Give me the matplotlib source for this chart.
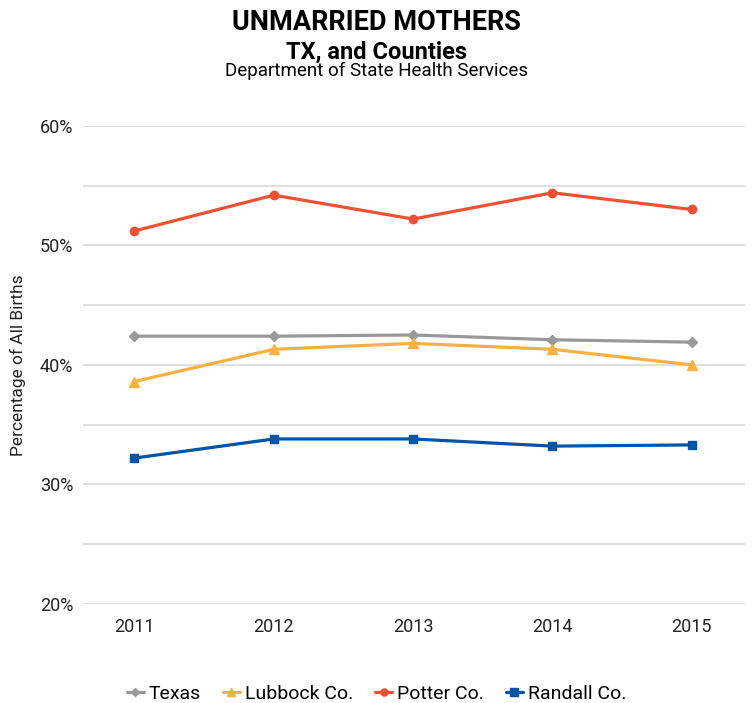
import matplotlib.pyplot as plt
from matplotlib.ticker import FuncFormatter, MultipleLocator

plt.rcParams['font.family'] = ['Roboto', 'DejaVu Sans']

years = ['2011', '2012', '2013', '2014', '2015']
texas = [42.4, 42.4, 42.5, 42.1, 41.9]
lubbock = [38.6, 41.3, 41.8, 41.3, 40.0]
potter = [51.2, 54.2, 52.2, 54.4, 53.0]
randall = [32.2, 33.8, 33.8, 33.2, 33.3]

series = [
    ('Texas', texas, '#999999', 'D', 5),
    ('Lubbock Co.', lubbock, '#fbb040', '^', 7),
    ('Potter Co.', potter, '#f05133', 'o', 6),
    ('Randall Co.', randall, '#0054a6', 's', 6),
]

fig = plt.figure(figsize=(7.53, 7.03), dpi=100)
ax = fig.add_axes([0.110, 0.141, 0.879, 0.680])

x = list(range(len(years)))
for name, vals, color, marker, ms in series:
    ax.plot(x, vals, color=color, lw=2.3, marker=marker, ms=ms,
            label=name, solid_capstyle='round')

ax.set_ylim(20, 60)
ax.set_xlim(-0.37, 4.38)
ax.set_xticks(x)
ax.set_xticklabels(years)
ax.yaxis.set_major_locator(MultipleLocator(10))
ax.yaxis.set_minor_locator(MultipleLocator(5))
ax.yaxis.set_major_formatter(FuncFormatter(lambda v, _: f'{v:.0f}%'))
ax.grid(True, which='both', axis='y', color='#d9d9d9', lw=1.2)
ax.set_axisbelow(True)
for s in ax.spines.values():
    s.set_visible(False)
ax.tick_params(axis='both', which='both', length=0, labelsize=13,
               labelcolor='#222222')
ax.tick_params(axis='y', pad=7)
ax.tick_params(axis='x', pad=10)
ax.set_ylabel('Percentage of All Births', fontsize=12.5, color='#222222',
              labelpad=10)

fig.text(0.5, 1 - 22 / 703, 'UNMARRIED MOTHERS', ha='center', va='center',
         fontsize=19.5, fontweight='bold')
fig.text(0.5, 1 - 52 / 703, 'TX, and Counties', ha='center', va='center',
         fontsize=17, fontweight='bold')
fig.text(0.5, 1 - 71 / 703, 'Department of State Health Services',
         ha='center', va='center', fontsize=13.5)

fig.legend(loc='center', bbox_to_anchor=(0.5, 1 - 694 / 703), ncol=4,
           frameon=False, fontsize=14, handlelength=0.9, handletextpad=0.25,
           columnspacing=1.1, markerscale=0.85)

fig.savefig('out.png', dpi=100)
